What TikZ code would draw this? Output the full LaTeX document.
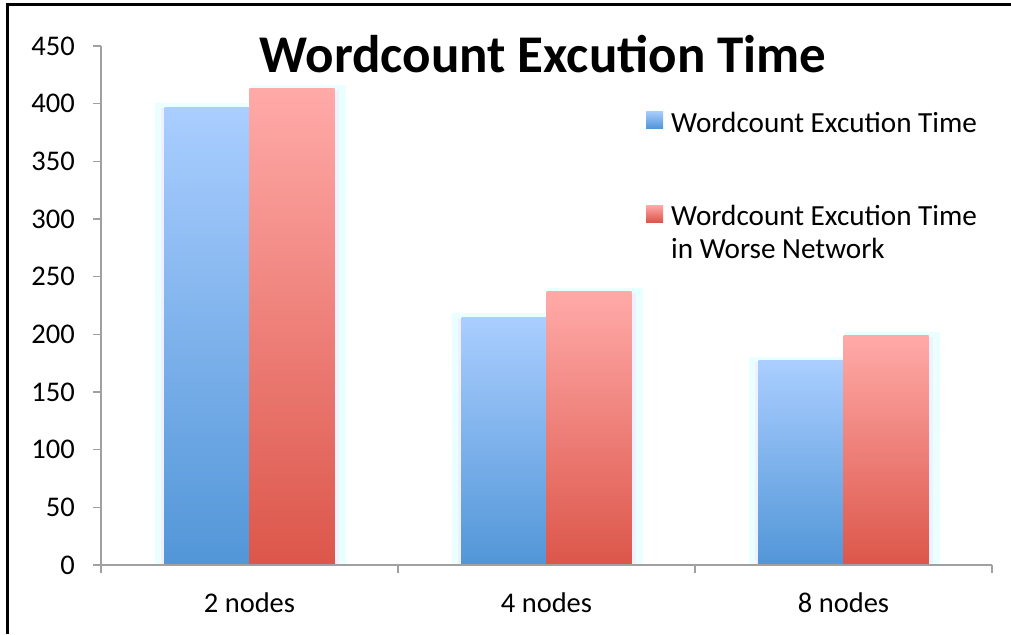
\documentclass[tikz,border=0pt]{standalone}
\usepackage{fontspec}
\setmainfont{Carlito}
\definecolor{bluetop}{RGB}{170,206,255}
\definecolor{bluebot}{RGB}{82,150,216}
\definecolor{redtop}{RGB}{255,170,168}
\definecolor{redbot}{RGB}{220,86,74}
\definecolor{glowc}{RGB}{234,255,255}
\definecolor{axisc}{RGB}{160,160,160}
\tikzset{
  bluebar/.style={top color=bluetop,bottom color=bluebot},
  redbar/.style={top color=redtop,bottom color=redbot},
  glow/.style={fill=glowc},
  axisline/.style={draw=axisc,line width=1.5pt},
  ticklab/.style={anchor=east,font=\fontsize{28.5}{34}\selectfont,inner sep=0pt},
  catlab/.style={anchor=base,font=\fontsize{28.5}{34}\selectfont,inner sep=0pt},
  leglab/.style={anchor=base west,font=\fontsize{29.2}{34}\selectfont,inner sep=0pt,align=left},
  titlelab/.style={anchor=base,font=\fontsize{53}{60}\selectfont\bfseries,inner sep=0pt}
}
\begin{document}
\begin{tikzpicture}[x=1pt,y=-1pt]
\useasboundingbox (0,0) rectangle (1011,634);
\fill[white] (0,0) rectangle (1011,634);
% frame
\draw[line width=3pt] (7.5,634) -- (7.5,5) -- (1011,5);
% glows
\foreach \c/\b/\r in {249.5/107.1/88.7, 546.5/317.0/291.7, 843.5/360.9/335.5}{
  \fill[glow] (\c-95,\b-4) rectangle (\c,565);
  \fill[glow] (\c,\r-4) rectangle (\c+96,565);
  \fill[blue!6] (\c-89,\b+1) rectangle (\c,565);
  \fill[blue!6] (\c,\r+1) rectangle (\c+89,565);
  \shade[bluebar] (\c-85,\b) rectangle (\c,565);
  \shade[redbar] (\c,\r) rectangle (\c+85,565);
}
% axes
\draw[axisline] (101,46) -- (101,573);
\draw[axisline] (93,565) -- (992,565);
\foreach \v in {0,50,...,450}{
  \draw[axisline] (93,{565-\v*1.1533}) -- (101,{565-\v*1.1533});
}
\foreach \x in {398,695,992}{
  \draw[axisline] (\x,565) -- (\x,573);
}
\node[ticklab] (t0) at (75,565) {0};
\node[ticklab] (t50) at (75,507.3) {50};
\node[ticklab] (t100) at (75,449.7) {100};
\node[ticklab] (t150) at (75,392.0) {150};
\node[ticklab] (t200) at (75,334.3) {200};
\node[ticklab] (t250) at (75,276.7) {250};
\node[ticklab] (t300) at (75,219.0) {300};
\node[ticklab] (t350) at (75,161.3) {350};
\node[ticklab] (t400) at (75,103.7) {400};
\node[ticklab] (t450) at (75,46.0) {450};
% categories
\node[catlab] (c2) at (249.5,612) {2 nodes};
\node[catlab] (c4) at (546.5,612) {4 nodes};
\node[catlab] (c8) at (843.5,612) {8 nodes};
% title
\node[titlelab] (title) at (543,73) {Wordcount Excution Time};
% legend
\shade[bluebar] (646,111) rectangle (663,128);
\node[leglab] (leg1) at (671,132) {Wordcount Excution Time};
\shade[redbar] (646,205) rectangle (663,222);
\node[leglab] (leg2) at (671,225) {Wordcount Excution Time};
\node[leglab] (leg3) at (671,258) {in Worse Network};
\end{tikzpicture}
\end{document}
